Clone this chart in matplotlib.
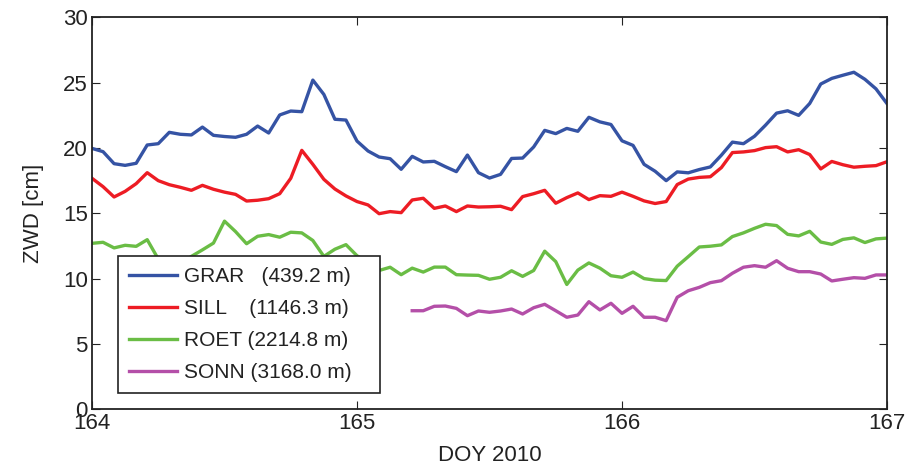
import matplotlib
matplotlib.use("Agg")
import matplotlib.pyplot as plt
import numpy as np

plt.rcParams['font.family'] = ['Liberation Sans Narrow', 'Liberation Sans', 'DejaVu Sans']

# hourly samples, DOY 164.0 .. 167.0
grar = [19.97, 19.72, 18.8, 18.67, 18.83, 20.23, 20.33, 21.2, 21.05, 21.0, 21.6, 20.97,
        20.88, 20.82, 21.05, 21.68, 21.15, 22.53, 22.83, 22.78, 25.2, 24.1, 22.2, 22.14,
        20.53, 19.77, 19.31, 19.18, 18.37, 19.36, 18.93, 18.98, 18.57, 18.19, 19.46, 18.11,
        17.7, 17.98, 19.2, 19.23, 20.08, 21.35, 21.1, 21.5, 21.28, 22.35, 22.0, 21.8,
        20.55, 20.2, 18.75, 18.22, 17.5, 18.17, 18.1, 18.35, 18.55, 19.45, 20.45, 20.33,
        20.9, 21.75, 22.67, 22.85, 22.5, 23.41, 24.9, 25.33, 25.57, 25.8, 25.26, 24.53, 23.4]
sill = [17.68, 17.04, 16.25, 16.68, 17.27, 18.11, 17.5, 17.19, 16.99, 16.76, 17.14, 16.84,
        16.62, 16.45, 15.94, 16.0, 16.12, 16.5, 17.68, 19.82, 18.75, 17.6, 16.86, 16.33,
        15.9, 15.64, 14.97, 15.13, 15.05, 16.02, 16.15, 15.38, 15.56, 15.13, 15.56, 15.48,
        15.5, 15.54, 15.28, 16.28, 16.5, 16.76, 15.77, 16.2, 16.56, 16.05, 16.35, 16.3,
        16.62, 16.3, 15.95, 15.75, 15.9, 17.2, 17.62, 17.75, 17.8, 18.5, 19.65, 19.7,
        19.8, 20.03, 20.1, 19.7, 19.87, 19.5, 18.4, 18.97, 18.72, 18.53, 18.6, 18.65, 18.95]
roet = [12.7, 12.78, 12.35, 12.55, 12.47, 12.98, 11.5, 11.0, 11.1, 11.7, 12.2, 12.72,
        14.4, 13.6, 12.67, 13.24, 13.37, 13.17, 13.55, 13.5, 12.92, 11.7, 12.25, 12.6,
        11.75, 11.2, 10.62, 10.87, 10.3, 10.8, 10.5, 10.88, 10.88, 10.3, 10.27, 10.25,
        9.95, 10.1, 10.6, 10.17, 10.62, 12.1, 11.3, 9.55, 10.65, 11.2, 10.8, 10.22,
        10.1, 10.5, 10.0, 9.88, 9.85, 10.95, 11.68, 12.42, 12.48, 12.58, 13.22, 13.5,
        13.85, 14.16, 14.06, 13.39, 13.27, 13.62, 12.8, 12.62, 13.0, 13.12, 12.76, 13.04, 13.1]
# SONN starts at hour 29
sonn_start = 29
sonn = [7.54, 7.54, 7.88, 7.9, 7.72, 7.16, 7.52, 7.42, 7.52, 7.67, 7.29, 7.77,
        8.03, 7.54, 7.04, 7.21, 8.23, 7.6, 8.11, 7.34, 7.88, 7.04, 7.04, 6.78,
        8.57, 9.07, 9.33, 9.69, 9.84, 10.41, 10.87, 10.99, 10.87, 11.37, 10.79, 10.53,
        10.53, 10.35, 9.82, 9.95, 10.07, 10.02, 10.28, 10.28]

labels = ["GRAR   (439.2 m)", "SILL    (1146.3 m)", "ROET (2214.8 m)", "SONN (3168.0 m)"]
colors = ["#3553a4", "#ed1c24", "#6abd45", "#b44fa8"]

doy0 = 164.0
x_full = doy0 + np.arange(len(grar)) / 24.0
x_sonn = doy0 + (sonn_start + np.arange(len(sonn))) / 24.0

fig = plt.figure(figsize=(9.05, 4.68), dpi=100)
ax = fig.add_axes([92/905, 1 - 409.2/468, (887-92)/905, (409.2-17.4)/468])

lw = 2.4
ax.plot(x_full, grar, color=colors[0], lw=lw, label=labels[0])
ax.plot(x_full, sill, color=colors[1], lw=lw, label=labels[1])
ax.plot(x_full, roet, color=colors[2], lw=lw, label=labels[2])
ax.plot(x_sonn, sonn, color=colors[3], lw=lw, label=labels[3])

ax.set_xlim(164, 167)
ax.set_ylim(0, 30)
ax.set_xticks([164, 165, 166, 167])
ax.set_yticks([0, 5, 10, 15, 20, 25, 30])
ax.tick_params(direction='in', top=True, right=True, length=6, width=0.8,
               labelsize=16, pad=3, colors='#222222')
for s in ax.spines.values():
    s.set_linewidth(1.3)
    s.set_color('#222222')

ax.set_xlabel("DOY 2010", fontsize=16, labelpad=8, color='#222222')
ax.set_ylabel("ZWD [cm]", fontsize=16, labelpad=14, color='#222222')

legw = (380 - 118) / 795
leg = ax.legend(loc='lower left', bbox_to_anchor=(0.0327, 0.0406, legw, 0.35),
                mode='expand', borderaxespad=0,
                fontsize=15, frameon=True, fancybox=False, framealpha=1,
                edgecolor='#222222', handlelength=2.3, handletextpad=0.3,
                labelspacing=0.62, borderpad=0.55)
leg.get_frame().set_linewidth(1.2)
for t in leg.get_texts():
    t.set_color('#222222')

fig.savefig("out.png", dpi=100)
